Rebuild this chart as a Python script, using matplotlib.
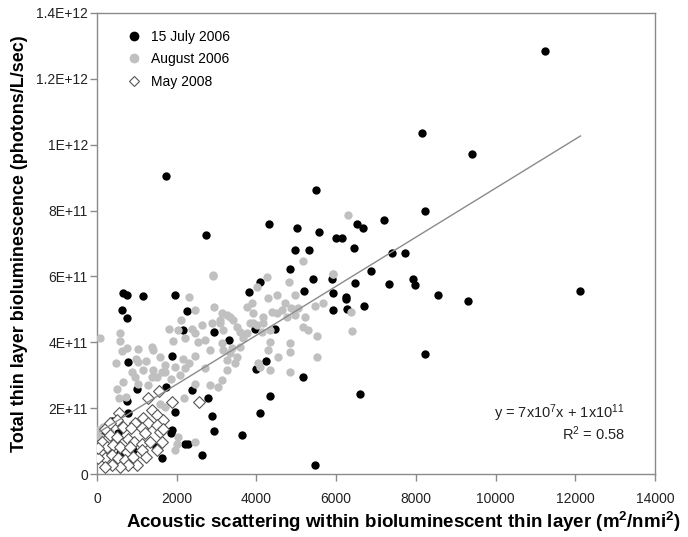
import matplotlib
matplotlib.use("Agg")
import numpy as np
import matplotlib.pyplot as plt
from matplotlib.lines import Line2D

plt.rcParams['font.family'] = ['Liberation Sans', 'DejaVu Sans']
plt.rcParams['mathtext.fontset'] = 'custom'
plt.rcParams['mathtext.rm'] = 'Liberation Sans'
plt.rcParams['mathtext.bf'] = 'Liberation Sans:bold'

# acoustic scattering (m2/nmi2), bioluminescence in units of 1e11 photons/L/sec
july_x = [1730, 2740, 4310, 5030, 5490, 5580, 6000, 6140, 6520, 6680,
          4970, 5320, 6460, 4840, 9410, 8230, 7210, 7400, 7720, 6870,
          6470, 7320, 7920, 7980, 8550, 9320, 12130, 6700, 11250, 8150,
          8230, 6600, 6260, 6260, 6280, 4090, 3810, 5430, 5890, 5200,
          5910, 5930, 4470, 3960, 3320, 4230, 3990, 660, 740, 1160,
          1960, 620, 760, 2250, 2170, 2940, 1870, 790, 1000, 1730,
          2390, 740, 770, 370, 1960, 2790, 2880, 2940, 1870, 1850,
          2210, 2290, 2630, 1620, 1470, 580, 120, 530, 910, 3630,
          4090, 4340, 5180, 5470, 60]
july_y = [9.05, 7.27, 7.58, 7.47, 8.62, 7.34, 7.17, 7.17, 7.58, 7.47,
          6.79, 6.79, 6.85, 6.23, 9.72, 8.00, 7.71, 6.72, 6.72, 6.16,
          5.81, 5.78, 5.93, 5.74, 5.44, 5.26, 5.57, 5.09, 12.85, 10.36,
          3.66, 2.43, 5.38, 5.31, 5.02, 5.84, 5.54, 5.92, 5.91, 5.57,
          5.51, 4.98, 4.42, 4.40, 4.07, 3.44, 3.18, 5.51, 5.44, 5.41,
          5.44, 4.98, 4.75, 4.95, 4.39, 4.32, 3.59, 3.40, 2.57, 2.65,
          2.55, 2.23, 1.86, 1.62, 1.90, 2.30, 1.77, 1.31, 1.34, 1.24,
          0.91, 0.91, 0.58, 0.48, 0.81, 0.63, 1.26, 1.24, 0.73, 1.18,
          1.87, 2.38, 2.94, 0.29, 0.88]

aug_x = [6290, 5180, 5910, 2920, 6380, 6400,
         5930, 4260, 4820, 4970, 4510, 4300, 4010, 3900, 3760, 4630,
         4880, 4970, 4760, 4380, 3420, 3250, 5470, 5180, 5300, 5680,
         3920, 4170, 4340, 4300, 4840, 4840, 5510, 4550, 3590, 3340,
         3500, 3250, 3460, 3250, 4050, 4090, 4340, 4840, 3500, 3590,
         3760, 4010, 4130, 4340, 3170, 3130, 3170, 3380, 3670, 3840,
         3920, 4170, 4510, 4720, 5050, 5220, 3340, 3080, 5510,
         2900, 2320, 2460, 2110, 1810, 2040, 2380, 2630, 2460, 2210,
         1910, 80, 580, 580, 620, 1020, 1370, 1410, 990, 480,
         1040, 1580, 1710, 1960, 2170, 2310, 2460, 2210, 2710, 2830,
         2710, 2540, 2940, 3130, 3090, 2880, 1620, 1160,
         490, 950, 1410, 660, 1040, 1290, 1500, 1860, 2080, 2190,
         2460, 2830, 3040, 3130, 1710, 1580, 330, 30, 1960, 2000,
         2460, 2040, 740, 730, 550, 870, 1240, 1370, 1710, 160, 80]
aug_y = [7.86, 6.48, 6.07, 6.05, 4.91, 4.36,
         6.07, 5.97, 5.82, 5.44, 5.44, 5.34, 5.69, 5.18, 5.08, 4.98,
         5.03, 4.83, 4.78, 4.93, 4.68, 4.83, 5.11, 4.47, 4.37, 5.21,
         4.58, 4.58, 4.02, 3.77, 3.99, 3.71, 3.56, 3.56, 3.87, 3.67,
         3.56, 3.46, 3.36, 3.16, 3.36, 3.26, 3.16, 3.11, 4.47, 4.32,
         4.27, 4.52, 4.32, 4.37, 4.37, 3.97, 3.77, 3.82, 4.12, 4.58,
         4.88, 4.78, 4.88, 5.18, 5.03, 4.78, 4.78, 4.68, 4.20,
         6.02, 5.37, 4.98, 4.68, 4.42, 4.39, 4.42, 4.52, 4.27, 4.12,
         4.05, 4.12, 4.27, 4.04, 3.74, 3.79, 3.85, 3.77, 3.51, 3.36,
         3.41, 3.56, 3.31, 3.26, 3.51, 3.36, 3.58, 3.21, 3.21, 3.77,
         4.07, 4.02, 5.06, 4.88, 4.58, 4.58, 3.11, 3.16,
         2.60, 2.95, 3.16, 2.80, 2.75, 2.70, 2.95, 2.90, 3.00, 2.30,
         2.75, 2.70, 2.65, 2.85, 2.04, 2.14, 1.29, 1.34, 0.73, 0.93,
         0.98, 1.13, 3.82, 2.33, 2.30, 3.11, 3.43, 2.95, 3.11, 1.44, 1.13]

may_x = [1560, 1270, 1890, 2560, 550, 1370, 1500, 1160, 950, 1660,
         1290, 660, 850, 1120, 1500, 1580, 1200, 200, 330, 490,
         790, 940, 1120, 1330, 1620, 1500, 120, 240, 410, 580,
         740, 830, 80, 200, 370, 530, 700, 910, 1000, 790,
         580, 370, 200, 30, 30, 1120, 1240, 1660, 490, 330]
may_y = [2.53, 2.30, 2.20, 2.18, 1.87, 1.96, 1.79, 1.69, 1.54, 1.64,
         1.54, 1.44, 1.39, 1.39, 1.49, 1.29, 1.24, 1.36, 1.18, 1.13,
         1.08, 0.98, 0.93, 0.98, 0.98, 0.73, 0.98, 0.83, 0.88, 0.83,
         0.68, 0.83, 0.68, 0.48, 0.58, 0.48, 0.43, 0.53, 0.27, 0.27,
         0.22, 0.27, 0.22, 0.48, 0.78, 0.73, 0.51, 1.36, 1.64, 1.54]

fit_slope = 7.44e7
fit_intercept = 1.24e11
fit_range = [80, 12130]

fig = plt.figure(figsize=(6.88, 5.37), dpi=100)
ax = fig.add_axes([0.141, 0.117, 0.811, 0.859])

scale = 1e11
ax.scatter(july_x, np.array(july_y) * scale, s=36, color='black', linewidths=0, zorder=3)
ax.scatter(aug_x, np.array(aug_y) * scale, s=36, color='#c0c0c0', linewidths=0, zorder=4)
ax.scatter(may_x, np.array(may_y) * scale, s=36, marker='D', facecolor='white',
           edgecolor='#555555', linewidths=0.8, zorder=5)

fx = np.array(fit_range)
ax.plot(fx, fit_slope * fx + fit_intercept, color='#8a8a8a', lw=1.0, zorder=6)

ax.set_xlim(0, 14000)
ax.set_ylim(0, 1.4e12)
ax.set_xticks(np.arange(0, 14001, 2000))
yticks = np.arange(0, 1.41e12, 2e11)
ylabels = ['0', '2E+11', '4E+11', '6E+11', '8E+11', '1E+12', '1.2E+12', '1.4E+12']
ax.set_yticks(yticks)
ax.set_yticklabels(ylabels)

for sp in ax.spines.values():
    sp.set_color('#8a8a8a')
    sp.set_linewidth(1.0)
ax.tick_params(direction='out', length=5, width=1, color='#8a8a8a',
               labelsize=10, labelcolor='#222222')
ax.tick_params(axis='x', pad=8)
ax.tick_params(axis='y', pad=1.5)

ax.set_xlabel('Acoustic scattering within bioluminescent thin layer (m$\\mathregular{^2}$/nmi$\\mathregular{^2}$)',
              fontsize=13.5, fontweight='bold', labelpad=3, x=0.548)
ax.set_ylabel('Total thin layer bioluminescence (photons/L/sec)',
              fontsize=13, fontweight='bold', labelpad=6)

handles = [
    Line2D([], [], marker='o', linestyle='none', color='black', markersize=6),
    Line2D([], [], marker='o', linestyle='none', color='#c0c0c0', markersize=6),
    Line2D([], [], marker='D', linestyle='none', markerfacecolor='white',
           markeredgecolor='#555555', markeredgewidth=0.8, markersize=5.5),
]
ax.legend(handles, ['15 July 2006', 'August 2006', 'May 2008'], loc='upper left',
          bbox_to_anchor=(0.025, 0.99), frameon=False, fontsize=10,
          handletextpad=0.45, labelspacing=0.6, handlelength=1.5)

ax.text(0.946, 0.132, 'y = 7x10$\\mathregular{^{7}}$x + 1x10$\\mathregular{^{11}}$',
        transform=ax.transAxes, ha='right', va='center', fontsize=10.5, color='#222222')
ax.text(0.946, 0.088, 'R$\\mathregular{^{2}}$ = 0.58',
        transform=ax.transAxes, ha='right', va='center', fontsize=10.5, color='#222222')

fig.savefig('out.png', dpi=100)
